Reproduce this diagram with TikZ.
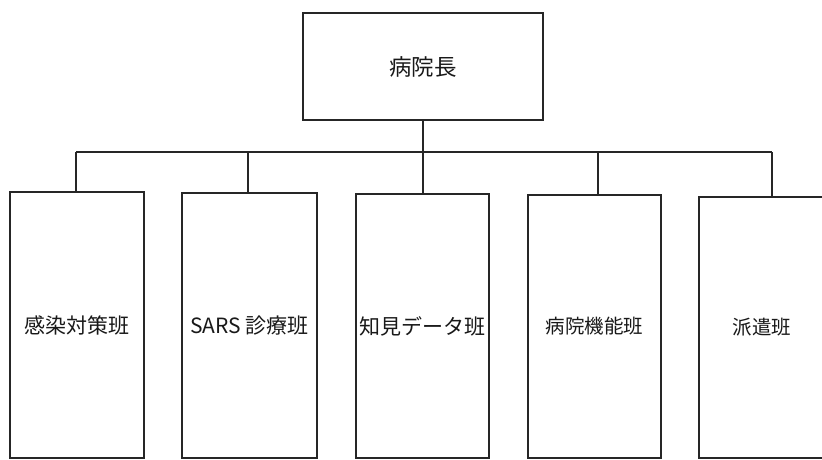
\documentclass[tikz,border=0pt]{standalone}
\usepackage{fontspec}
\newfontfamily\jp{Noto Sans CJK JP}
\begin{document}
\begin{tikzpicture}[x=1pt,y=-1pt,line width=1.2pt,color=black!85]
\tikzset{
  box/.style={draw,rectangle,inner sep=0pt,text=black!90,font=\jp\fontsize{20}{24}\selectfont},
  link/.style={draw,line width=1.2pt}
}
\useasboundingbox (0,0) rectangle (822,459);
\clip (0,0) rectangle (822,459);
\fill[white] (0,0) rectangle (822,459);
\node[box,minimum width=240,minimum height=107,font=\jp\fontsize{22.5}{26}\selectfont] (top) at (423,66.5) {\raisebox{-2pt}{病院長}};
\node[box,minimum width=134,minimum height=266,font=\jp\fontsize{21}{24}\selectfont] (b1) at (77,325) {\raisebox{-4pt}{感染対策班}};
\node[box,minimum width=135,minimum height=265,font=\jp\fontsize{21}{24}\selectfont] (b2) at (249.5,325.5) {\raisebox{-4pt}{SARS 診療班}};
\node[box,minimum width=133,minimum height=264,font=\jp\fontsize{21}{24}\selectfont] (b3) at (422.5,326) {\raisebox{-4pt}{知見データ班}};
\node[box,minimum width=133,minimum height=263,font=\jp\fontsize{19.5}{23}\selectfont] (b4) at (594.5,326.5) {\raisebox{-4pt}{病院機能班}};
\node[box,minimum width=134,minimum height=261,font=\jp\fontsize{19.5}{22}\selectfont] (b5) at (766,327.5) {\hspace*{-8pt}\raisebox{-4pt}{派遣班}};
\coordinate (d1) at (76,152);
\coordinate (d2) at (248,152);
\coordinate (d3) at (423,152);
\coordinate (d4) at (598,152);
\coordinate (d5) at (772,152);
\draw[link] (top.south) -- (top.south |- d3);
\draw[link] (d1) -- (d5);
\foreach \i in {1,...,5} {\draw[link] (d\i) -- (d\i |- b\i.north);}
\end{tikzpicture}
\end{document}
